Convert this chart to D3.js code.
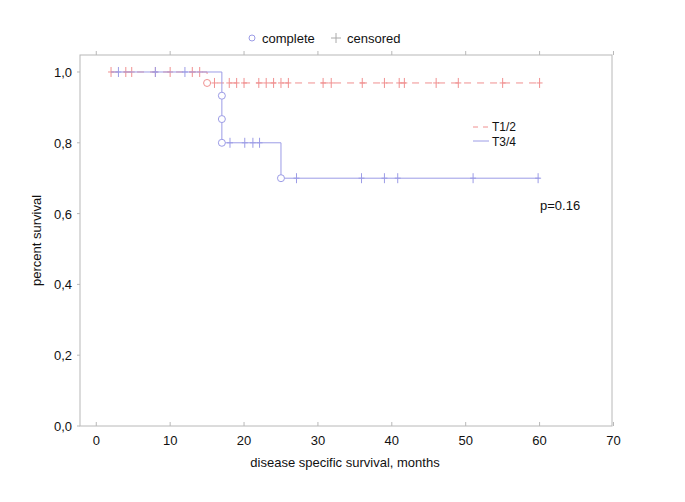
<!DOCTYPE html>
<html><head><meta charset="utf-8">
<script src="https://cdn.jsdelivr.net/npm/d3@7"></script>
<style>
html,body{margin:0;padding:0;background:#fff;}
text{font-family:Arial,"Liberation Sans",sans-serif;}
</style></head>
<body>
<svg id="chart" width="685" height="502"></svg>
<script>
// ---- data ----
const xTicks = [0,10,20,30,40,50,60,70];
const yTicks = [0,0.2,0.4,0.6,0.8,1.0];
const yTickLabels = ["0,0","0,2","0,4","0,6","0,8","1,0"];

// T1/2 curve (step function)
const t12Time = [2, 15, 60];
const t12Surv = [1.0, 0.969, 0.969];
const t12EventTime = [15];
const t12EventSurv = [0.969];
const t12Censored = [2,4,4.8,8,10,13,14,16,18,19,20,22,23,24,25,26,30.7,31.8,36,39,41,41.7,46,49,55,60];

// T3/4 curve
const t34Time = [2, 17, 17, 17, 25, 60];
const t34Surv = [1.0, 0.933, 0.867, 0.8, 0.7, 0.7];
const t34EventTime = [17,17,17,25];
const t34EventSurv = [0.933,0.867,0.8,0.7];
const t34Censored = [3,8,12,18.1,20.1,21.2,22.1,27.1,35.9,39,40.8,51,59.8];

const seriesNames = ["T1/2","T3/4"];
const pValueText = "p=0.16";

// ---- layout ----
const svg = d3.select("#chart");
const L = 80, R = 612, T = 55, B = 426;
const x = d3.scaleLinear().domain([-2.2, 69.8]).range([L, R]);
const y = d3.scaleLinear().domain([0, 1.048]).range([B, T]);
const red = "#f09090", blue = "#9c9ce6", frame = "#b8b8b8";
const FS = 13;

// frame
svg.append("rect").attr("x",L).attr("y",T).attr("width",R-L).attr("height",B-T)
  .attr("fill","none").attr("stroke",frame).attr("stroke-width",1);

const xa = svg.append("g");
xTicks.forEach(v=>{
  xa.append("line").attr("x1",x(v)).attr("x2",x(v)).attr("y1",B).attr("y2",B-4).attr("stroke",frame);
  xa.append("line").attr("x1",x(v)).attr("x2",x(v)).attr("y1",T).attr("y2",T-4).attr("stroke",frame);
  xa.append("text").attr("x",x(v)).attr("y",B+19).attr("text-anchor","middle")
    .attr("font-size",FS).attr("fill","#111").text(v);
});
const ya = svg.append("g");
yTicks.forEach((v,i)=>{
  ya.append("line").attr("x1",L).attr("x2",L-3).attr("y1",y(v)).attr("y2",y(v)).attr("stroke",frame);
  ya.append("text").attr("x",L-8).attr("y",y(v)+5).attr("text-anchor","end")
    .attr("font-size",FS).attr("fill","#111").text(yTickLabels[i]);
});

// axis titles
svg.append("text").attr("x",(L+R)/2 - 1).attr("y",467).attr("text-anchor","middle")
  .attr("font-size",FS).attr("fill","#111").text("disease specific survival, months");
svg.append("text").attr("transform",`translate(41,${(T+B)/2}) rotate(-90)`).attr("text-anchor","middle")
  .attr("font-size",FS).attr("fill","#111").text("percent survival");

// step helpers
function survAt(times, survs, t){
  let s = survs[0];
  for(let i=0;i<times.length;i++){ if(times[i] <= t) s = survs[i]; }
  return s;
}
const stepLine = d3.line().x(d=>x(d[0])).y(d=>y(d[1])).curve(d3.curveStepAfter);

function drawSeries(times, survs, evT, evS, cens, color, dash){
  const g = svg.append("g");
  g.append("path").attr("d", stepLine(times.map((t,i)=>[t,survs[i]])))
    .attr("fill","none").attr("stroke",color).attr("stroke-width",1)
    .attr("stroke-dasharray", dash);
  cens.forEach(t=>{
    const s = survAt(times, survs, t);
    g.append("line").attr("x1",x(t)).attr("x2",x(t)).attr("y1",y(s)-5).attr("y2",y(s)+5)
      .attr("stroke",color).attr("stroke-width",1);
    g.append("line").attr("x1",x(t)-3).attr("x2",x(t)+3).attr("y1",y(s)).attr("y2",y(s))
      .attr("stroke",color).attr("stroke-width",1);
  });
  evT.forEach((t,i)=>{
    g.append("circle").attr("cx",x(t)).attr("cy",y(evS[i])).attr("r",3.5)
      .attr("fill","#fff").attr("stroke",color).attr("stroke-width",1);
  });
}
drawSeries(t12Time, t12Surv, t12EventTime, t12EventSurv, t12Censored, red, "7,6");
drawSeries(t34Time, t34Surv, t34EventTime, t34EventSurv, t34Censored, blue, null);

// series legend
const lg = svg.append("g");
lg.append("line").attr("x1",473).attr("x2",489).attr("y1",127).attr("y2",127)
  .attr("stroke",red).attr("stroke-dasharray","5,5");
lg.append("text").attr("x",492).attr("y",131).attr("font-size",12).attr("fill","#111").text(seriesNames[0]);
lg.append("line").attr("x1",473).attr("x2",489).attr("y1",141).attr("y2",141).attr("stroke",blue);
lg.append("text").attr("x",492).attr("y",146).attr("font-size",12).attr("fill","#111").text(seriesNames[1]);

svg.append("text").attr("x",540).attr("y",210).attr("font-size",FS).attr("fill","#111").text(pValueText);

// top legend
const tg = svg.append("g");
tg.append("circle").attr("cx",252).attr("cy",38).attr("r",3).attr("fill","none").attr("stroke",blue);
tg.append("text").attr("x",262).attr("y",43).attr("font-size",FS).attr("fill","#111").text("complete");
tg.append("line").attr("x1",331).attr("x2",341).attr("y1",38).attr("y2",38).attr("stroke","#aaa");
tg.append("line").attr("x1",336).attr("x2",336).attr("y1",33).attr("y2",43).attr("stroke","#aaa");
tg.append("text").attr("x",347).attr("y",43).attr("font-size",FS).attr("fill","#111").text("censored");
</script>
</body></html>
